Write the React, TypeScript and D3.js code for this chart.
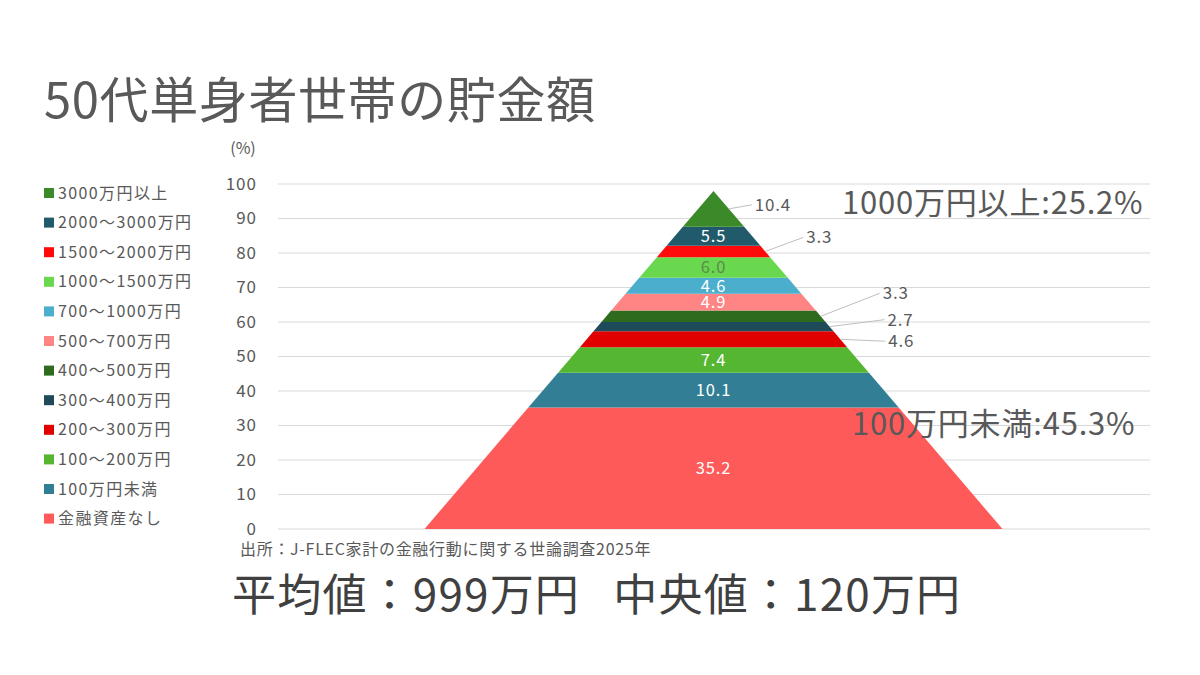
import React from "react";
import * as d3 from "d3";

// Categories from bottom to top
const categories = [
  "金融資産なし",
  "100万円未満",
  "100～200万円",
  "200～300万円",
  "300～400万円",
  "400～500万円",
  "500～700万円",
  "700～1000万円",
  "1000～1500万円",
  "1500～2000万円",
  "2000～3000万円",
  "3000万円以上",
];
const values = [35.2, 10.1, 7.4, 4.6, 2.7, 3.3, 4.9, 4.6, 6.0, 3.3, 5.5, 10.4];
const colors = [
  "#ff5a5a",
  "#327f95",
  "#55b632",
  "#e00000",
  "#1f4a5a",
  "#2e6b1f",
  "#ff8585",
  "#4aaecc",
  "#6ad84f",
  "#ff0a0a",
  "#215a6b",
  "#3a8a2a",
];
const yTicks = [0, 10, 20, 30, 40, 50, 60, 70, 80, 90, 100];

// label placement (style): outside labels with leader offsets
const outsideLabels: Record<number, [number, number]> = {
  11: [23, -4],
  9: [38, -14],
  5: [59, -23],
  4: [55, -7],
  3: [45, 2],
};
const insideLabelColor: Record<number, string> = { 8: "#5b8a4c" };

const FONT = "'Noto Sans CJK JP', 'Noto Sans', sans-serif";

export default function App() {
  const W = 1200;
  const H = 675;
  const y = d3.scaleLinear().domain([0, 100]).range([529, 184]);
  const total = d3.sum(values);
  const x = d3.scaleLinear().domain([-total, total]).range([424.5, 1002.5]);
  const cum = d3.cumsum(values);
  const starts = values.map((v, i) => cum[i] - v);

  const segs = values.map((v, i) => {
    const c0 = starts[i];
    const c1 = cum[i];
    const r0 = total - c0;
    const r1 = total - c1;
    const pts: [number, number][] = [
      [x(-r0), y(c0)],
      [x(r0), y(c0)],
      [x(r1), y(c1)],
      [x(-r1), y(c1)],
    ];
    const mid = (c0 + c1) / 2;
    const rm = total - mid;
    return { i, v, pts, mid, edgeX: x(rm), midY: y(mid) };
  });

  const line = d3.line();

  return (
    <svg
      width={W}
      height={H}
      style={{ position: "absolute", left: 0, top: 0, background: "#fff" }}
      fontFamily={FONT}
    >
      <rect x={0} y={0} width={W} height={H} fill="#fff" />
      <text x={44} y={118} fontSize={49} letterSpacing={0.6} fill="#595959">
        50代単身者世帯の貯金額
      </text>

      {/* gridlines */}
      {yTicks.map((t) => (
        <line
          key={t}
          x1={278}
          x2={1150}
          y1={y(t)}
          y2={y(t)}
          stroke="#d9d9d9"
          strokeWidth={1}
        />
      ))}
      {yTicks.map((t) => (
        <text
          key={"t" + t}
          x={257}
          y={y(t)}
          dy="0.35em"
          textAnchor="end"
          fontSize={17}
          letterSpacing={1}
          fill="#595959"
        >
          {t}
        </text>
      ))}
      <text x={243} y={148} dy="0.35em" textAnchor="middle" fontSize={16} fill="#595959">
        (%)
      </text>

      {/* pyramid */}
      {segs.map((s) => (
        <path key={s.i} d={line(s.pts) + "Z"} fill={colors[s.i]} />
      ))}

      {/* labels */}
      {segs.map((s) => {
        const off = outsideLabels[s.i];
        if (off) {
          const ex = s.edgeX + off[0];
          const ey = s.midY + off[1];
          return (
            <g key={"l" + s.i}>
              <line
                x1={s.edgeX}
                y1={s.midY}
                x2={ex}
                y2={ey}
                stroke="#bfbfbf"
                strokeWidth={1}
              />
              <text
                x={ex + 3}
                y={ey}
                dy="0.35em"
                fontSize={17}
                letterSpacing={0.8}
                fill="#595959"
              >
                {s.v.toFixed(1)}
              </text>
            </g>
          );
        }
        return (
          <text
            key={"l" + s.i}
            x={x(0)}
            y={s.midY}
            dy="0.35em"
            textAnchor="middle"
            fontSize={16.5}
            letterSpacing={0.9}
            fill={insideLabelColor[s.i] || "#ffffff"}
          >
            {s.v.toFixed(1)}
          </text>
        );
      })}

      {/* legend */}
      {categories
        .map((c, i) => ({ c, i }))
        .reverse()
        .map((d, k) => {
          const ly = 193 + k * 29.6;
          return (
            <g key={"lg" + d.i}>
              <rect x={44} y={ly - 5} width={10} height={10} fill={colors[d.i]} />
              <text
                x={58}
                y={ly}
                dy="0.35em"
                fontSize={16}
                letterSpacing={1.4}
                fill="#595959"
              >
                {d.c}
              </text>
            </g>
          );
        })}

      <text x={842} y={203} dy="0.35em" fontSize={31} letterSpacing={0.8} fill="#595959">
        1000万円以上:25.2%
      </text>
      <text x={852} y={424} dy="0.35em" fontSize={31} letterSpacing={0.8} fill="#595959">
        100万円未満:45.3%
      </text>

      <text x={240} y={549} dy="0.35em" fontSize={16} letterSpacing={0.7} fill="#595959">
        出所：J-FLEC家計の金融行動に関する世論調査2025年
      </text>

      <text
        x={232}
        y={596}
        dy="0.35em"
        fontSize={44}
        letterSpacing={1.2}
        fill="#404040"
        style={{ whiteSpace: "pre" }}
      >
        {"平均値：999万円   中央値：120万円"}
      </text>
    </svg>
  );
}
